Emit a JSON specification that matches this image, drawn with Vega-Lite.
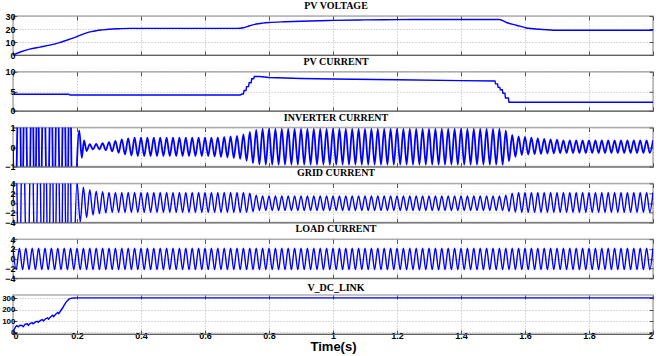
{
"$schema": "https://vega.github.io/schema/vega-lite/v6.json",
"background": "white",
"padding": {"left": 0, "top": 0, "right": 4, "bottom": 0},
"spacing": 16.8,
"bounds": "flush",
"config": {
  "view": {"stroke": "#b0b0b0", "strokeWidth": 1.5},
  "title": {"font": "Liberation Serif", "fontSize": 10, "fontWeight": "bold", "color": "black", "offset": 1, "dx": 3},
  "axis": {"labelFont": "Liberation Sans", "labelFontWeight": "bold", "labelFontSize": 9, "labelColor": "black", "domain": false, "grid": true, "gridColor": "#a0a0a0", "gridDash": [1, 2], "gridWidth": 0.8, "tickColor": "#555555", "tickSize": -4, "labelPadding": 2, "format": "~f", "titleFont": "Liberation Sans", "titleFontWeight": "bold", "titleFontSize": 13, "titleColor": "black", "titlePadding": 0}
},
"datasets": {
"pvv": [{"t":0,"v":0},{"t":0.025,"v":2.5},{"t":0.052,"v":4.5},{"t":0.085,"v":6.1},{"t":0.115,"v":7.6},{"t":0.145,"v":9.5},{"t":0.167,"v":11.3},{"t":0.185,"v":12.8},{"t":0.2,"v":14.2},{"t":0.215,"v":15.7},{"t":0.23,"v":17},{"t":0.245,"v":18},{"t":0.26,"v":18.7},{"t":0.28,"v":19.3},{"t":0.3,"v":19.8},{"t":0.33,"v":20.2},{"t":0.365,"v":20.5},{"t":0.7,"v":20.5},{"t":0.72,"v":21},{"t":0.74,"v":22.5},{"t":0.76,"v":23.8},{"t":0.78,"v":24.5},{"t":0.8,"v":25},{"t":0.85,"v":25.6},{"t":0.9,"v":26},{"t":1,"v":26.6},{"t":1.1,"v":27},{"t":1.2,"v":27.2},{"t":1.3,"v":27.3},{"t":1.52,"v":27.3},{"t":1.542,"v":25},{"t":1.573,"v":22.9},{"t":1.604,"v":20.8},{"t":1.646,"v":19.8},{"t":1.698,"v":19},{"t":2,"v":19}],
"pvi": [{"t":0,"v":4.25},{"t":0.175,"v":4.25},{"t":0.178,"v":4.05},{"t":0.71,"v":4.05},{"t":0.715,"v":4.3},{"t":0.72,"v":4.3},{"t":0.722,"v":5.2},{"t":0.728,"v":5.2},{"t":0.73,"v":6.2},{"t":0.736,"v":6.2},{"t":0.738,"v":7.2},{"t":0.744,"v":7.2},{"t":0.746,"v":8.2},{"t":0.752,"v":8.2},{"t":0.754,"v":8.8},{"t":0.77,"v":8.8},{"t":0.8,"v":8.55},{"t":0.9,"v":8.3},{"t":1,"v":8.15},{"t":1.2,"v":7.95},{"t":1.4,"v":7.75},{"t":1.506,"v":7.65},{"t":1.508,"v":6.9},{"t":1.514,"v":6.9},{"t":1.516,"v":6},{"t":1.521,"v":6},{"t":1.523,"v":5.4},{"t":1.529,"v":5.4},{"t":1.531,"v":4.5},{"t":1.537,"v":4.5},{"t":1.539,"v":3.3},{"t":1.548,"v":3.3},{"t":1.55,"v":2.2},{"t":2,"v":2.2}],
"inv": [{"t":0,"v":0},{"t":0.005,"v":-5},{"t":0.02,"v":5},{"t":0.028,"v":-5},{"t":0.037,"v":5},{"t":0.049,"v":-5},{"t":0.06,"v":5},{"t":0.068,"v":-5},{"t":0.077,"v":5},{"t":0.085,"v":-5},{"t":0.096,"v":5},{"t":0.108,"v":-5},{"t":0.119,"v":5},{"t":0.128,"v":-5},{"t":0.138,"v":5},{"t":0.149,"v":-5},{"t":0.159,"v":5},{"t":0.169,"v":-5},{"t":0.177,"v":5},{"t":0.187,"v":-5},{"t":0.207,"v":0.85},{"t":0.215,"v":-0.55},{"t":0.222,"v":0.35},{"t":0.23,"v":-0.2},
{"t":0.24,"v":0.15},{"t":0.25,"v":-0.12},{"t":0.26,"v":0.16},{"t":0.27,"v":-0.12},{"t":0.28,"v":0.2},{"t":0.29,"v":-0.16},{"t":0.3,"v":0.26},{"t":0.31,"v":-0.22},{"t":0.32,"v":0.32},{"t":0.33,"v":-0.3},{"t":0.34,"v":0.4},{"t":0.35,"v":-0.38},{"t":0.36,"v":0.45},{"t":0.37,"v":-0.43},
{"t":0.38,"v":0.48},{"t":0.39,"v":-0.46},{"t":0.4,"v":0.48},{"t":0.41,"v":-0.46},{"t":0.42,"v":0.48},{"t":0.43,"v":-0.46},{"t":0.44,"v":0.48},{"t":0.45,"v":-0.46},{"t":0.46,"v":0.48},{"t":0.47,"v":-0.46},{"t":0.48,"v":0.48},{"t":0.49,"v":-0.46},{"t":0.5,"v":0.48},{"t":0.51,"v":-0.46},{"t":0.52,"v":0.48},{"t":0.53,"v":-0.46},{"t":0.54,"v":0.48},{"t":0.55,"v":-0.46},{"t":0.56,"v":0.48},{"t":0.57,"v":-0.46},{"t":0.58,"v":0.48},{"t":0.59,"v":-0.46},{"t":0.6,"v":0.48},{"t":0.61,"v":-0.46},{"t":0.62,"v":0.48},{"t":0.63,"v":-0.48},{"t":0.64,"v":0.5},{"t":0.65,"v":-0.5},{"t":0.66,"v":0.52},{"t":0.67,"v":-0.52},{"t":0.68,"v":0.55},{"t":0.69,"v":-0.56},{"t":0.7,"v":0.58},{"t":0.71,"v":-0.6},{"t":0.72,"v":0.65},{"t":0.73,"v":-0.7},{"t":0.74,"v":0.78},{"t":0.75,"v":-0.82},{"t":0.76,"v":0.88},{"t":0.77,"v":-0.88},
{"t":0.78,"v":0.93},{"t":0.79,"v":-0.9},{"t":0.8,"v":0.93},{"t":0.81,"v":-0.9},{"t":0.82,"v":0.93},{"t":0.83,"v":-0.9},{"t":0.84,"v":0.93},{"t":0.85,"v":-0.9},{"t":0.86,"v":0.93},{"t":0.87,"v":-0.9},{"t":0.88,"v":0.93},{"t":0.89,"v":-0.9},{"t":0.9,"v":0.93},{"t":0.91,"v":-0.9},{"t":0.92,"v":0.93},{"t":0.93,"v":-0.9},{"t":0.94,"v":0.93},{"t":0.95,"v":-0.9},{"t":0.96,"v":0.93},{"t":0.97,"v":-0.9},{"t":0.98,"v":0.93},{"t":0.99,"v":-0.9},
{"t":1,"v":0.93},{"t":1.01,"v":-0.9},{"t":1.02,"v":0.93},{"t":1.03,"v":-0.9},{"t":1.04,"v":0.93},{"t":1.05,"v":-0.9},{"t":1.06,"v":0.93},{"t":1.07,"v":-0.9},{"t":1.08,"v":0.93},{"t":1.09,"v":-0.9},{"t":1.1,"v":0.93},{"t":1.11,"v":-0.9},{"t":1.12,"v":0.93},{"t":1.13,"v":-0.9},{"t":1.14,"v":0.93},{"t":1.15,"v":-0.9},{"t":1.16,"v":0.93},{"t":1.17,"v":-0.9},{"t":1.18,"v":0.93},{"t":1.19,"v":-0.9},{"t":1.2,"v":0.93},{"t":1.21,"v":-0.9},{"t":1.22,"v":0.93},{"t":1.23,"v":-0.9},{"t":1.24,"v":0.93},{"t":1.25,"v":-0.9},{"t":1.26,"v":0.93},{"t":1.27,"v":-0.9},{"t":1.28,"v":0.93},{"t":1.29,"v":-0.9},{"t":1.3,"v":0.93},{"t":1.31,"v":-0.9},{"t":1.32,"v":0.93},{"t":1.33,"v":-0.9},{"t":1.34,"v":0.93},{"t":1.35,"v":-0.9},{"t":1.36,"v":0.93},{"t":1.37,"v":-0.9},{"t":1.38,"v":0.93},{"t":1.39,"v":-0.9},{"t":1.4,"v":0.93},{"t":1.41,"v":-0.9},{"t":1.42,"v":0.93},{"t":1.43,"v":-0.9},{"t":1.44,"v":0.93},{"t":1.45,"v":-0.9},{"t":1.46,"v":0.93},{"t":1.47,"v":-0.9},{"t":1.48,"v":0.93},{"t":1.49,"v":-0.9},{"t":1.5,"v":0.93},{"t":1.51,"v":-0.9},{"t":1.52,"v":0.93},{"t":1.53,"v":-0.9},
{"t":1.54,"v":0.85},{"t":1.55,"v":-0.72},{"t":1.56,"v":0.62},{"t":1.57,"v":-0.5},{"t":1.58,"v":0.55},{"t":1.59,"v":-0.4},{"t":1.6,"v":0.52},{"t":1.61,"v":-0.38},{"t":1.62,"v":0.48},{"t":1.63,"v":-0.36},{"t":1.64,"v":0.45},{"t":1.65,"v":-0.35},{"t":1.66,"v":0.42},{"t":1.67,"v":-0.33},{"t":1.68,"v":0.4},{"t":1.69,"v":-0.32},{"t":1.7,"v":0.38},{"t":1.71,"v":-0.31},
{"t":1.72,"v":0.35},{"t":1.73,"v":-0.3},{"t":1.74,"v":0.35},{"t":1.75,"v":-0.3},{"t":1.76,"v":0.35},{"t":1.77,"v":-0.3},{"t":1.78,"v":0.35},{"t":1.79,"v":-0.3},{"t":1.8,"v":0.35},{"t":1.81,"v":-0.3},{"t":1.82,"v":0.35},{"t":1.83,"v":-0.3},{"t":1.84,"v":0.35},{"t":1.85,"v":-0.3},{"t":1.86,"v":0.35},{"t":1.87,"v":-0.3},{"t":1.88,"v":0.35},{"t":1.89,"v":-0.3},{"t":1.9,"v":0.35},{"t":1.91,"v":-0.3},{"t":1.92,"v":0.35},{"t":1.93,"v":-0.3},{"t":1.94,"v":0.35},{"t":1.95,"v":-0.3},{"t":1.96,"v":0.35},{"t":1.97,"v":-0.3},{"t":1.98,"v":0.35},{"t":1.99,"v":-0.3},{"t":2,"v":0.35}],
"grid": [{"t":0,"v":0},{"t":0.006,"v":20},{"t":0.02,"v":-20},{"t":0.03,"v":20},{"t":0.045,"v":-20},{"t":0.058,"v":20},{"t":0.07,"v":-20},{"t":0.081,"v":20},{"t":0.092,"v":-20},{"t":0.101,"v":20},{"t":0.11,"v":-20},{"t":0.121,"v":20},{"t":0.13,"v":-20},{"t":0.14,"v":20},{"t":0.15,"v":-20},{"t":0.159,"v":20},{"t":0.168,"v":-20},{"t":0.176,"v":20},{"t":0.186,"v":-20},
{"t":0.2,"v":4.3},{"t":0.21,"v":-3.9},{"t":0.22,"v":3.2},{"t":0.23,"v":-3},{"t":0.24,"v":2.7},{"t":0.25,"v":-2.5},{"t":0.26,"v":2.4},{"t":0.27,"v":-2.2},{"t":0.28,"v":2.3},{"t":0.29,"v":-2.05},
{"t":0.3,"v":2.15},{"t":0.31,"v":-1.95},{"t":0.32,"v":2.15},{"t":0.33,"v":-1.95},{"t":0.34,"v":2.15},{"t":0.35,"v":-1.95},{"t":0.36,"v":2.15},{"t":0.37,"v":-1.95},{"t":0.38,"v":2.15},{"t":0.39,"v":-1.95},{"t":0.4,"v":2.15},{"t":0.41,"v":-1.95},{"t":0.42,"v":2.15},{"t":0.43,"v":-1.95},{"t":0.44,"v":2.15},{"t":0.45,"v":-1.95},{"t":0.46,"v":2.15},{"t":0.47,"v":-1.95},{"t":0.48,"v":2.15},{"t":0.49,"v":-1.95},{"t":0.5,"v":2.15},{"t":0.51,"v":-1.95},{"t":0.52,"v":2.15},{"t":0.53,"v":-1.95},{"t":0.54,"v":2.15},{"t":0.55,"v":-1.95},{"t":0.56,"v":2.15},{"t":0.57,"v":-1.95},{"t":0.58,"v":2.15},{"t":0.59,"v":-1.95},{"t":0.6,"v":2.15},{"t":0.61,"v":-1.95},{"t":0.62,"v":2.15},{"t":0.63,"v":-1.95},{"t":0.64,"v":2.15},{"t":0.65,"v":-1.95},{"t":0.66,"v":2.15},{"t":0.67,"v":-1.95},{"t":0.68,"v":2.15},{"t":0.69,"v":-1.95},{"t":0.7,"v":2.15},{"t":0.71,"v":-1.95},{"t":0.72,"v":2.15},{"t":0.73,"v":-1.95},{"t":0.74,"v":2},{"t":0.75,"v":-1.8},{"t":0.76,"v":1.6},
{"t":0.77,"v":-1.55},{"t":0.78,"v":1.45},{"t":0.79,"v":-1.55},{"t":0.8,"v":1.45},{"t":0.81,"v":-1.55},{"t":0.82,"v":1.45},{"t":0.83,"v":-1.55},{"t":0.84,"v":1.45},{"t":0.85,"v":-1.55},{"t":0.86,"v":1.45},{"t":0.87,"v":-1.55},{"t":0.88,"v":1.45},{"t":0.89,"v":-1.55},{"t":0.9,"v":1.45},{"t":0.91,"v":-1.55},{"t":0.92,"v":1.45},{"t":0.93,"v":-1.55},{"t":0.94,"v":1.45},{"t":0.95,"v":-1.55},{"t":0.96,"v":1.45},{"t":0.97,"v":-1.55},{"t":0.98,"v":1.45},{"t":0.99,"v":-1.55},{"t":1,"v":1.45},{"t":1.01,"v":-1.55},{"t":1.02,"v":1.45},{"t":1.03,"v":-1.55},{"t":1.04,"v":1.45},{"t":1.05,"v":-1.55},{"t":1.06,"v":1.45},{"t":1.07,"v":-1.55},{"t":1.08,"v":1.45},{"t":1.09,"v":-1.55},{"t":1.1,"v":1.45},{"t":1.11,"v":-1.55},{"t":1.12,"v":1.45},{"t":1.13,"v":-1.55},{"t":1.14,"v":1.45},{"t":1.15,"v":-1.55},{"t":1.16,"v":1.45},{"t":1.17,"v":-1.55},{"t":1.18,"v":1.45},{"t":1.19,"v":-1.55},{"t":1.2,"v":1.45},{"t":1.21,"v":-1.55},{"t":1.22,"v":1.45},{"t":1.23,"v":-1.55},{"t":1.24,"v":1.45},{"t":1.25,"v":-1.55},{"t":1.26,"v":1.45},{"t":1.27,"v":-1.55},{"t":1.28,"v":1.45},{"t":1.29,"v":-1.55},{"t":1.3,"v":1.45},{"t":1.31,"v":-1.55},{"t":1.32,"v":1.45},{"t":1.33,"v":-1.55},{"t":1.34,"v":1.45},{"t":1.35,"v":-1.55},{"t":1.36,"v":1.45},{"t":1.37,"v":-1.55},{"t":1.38,"v":1.45},{"t":1.39,"v":-1.55},{"t":1.4,"v":1.45},{"t":1.41,"v":-1.55},{"t":1.42,"v":1.45},{"t":1.43,"v":-1.55},{"t":1.44,"v":1.45},{"t":1.45,"v":-1.55},{"t":1.46,"v":1.45},{"t":1.47,"v":-1.55},{"t":1.48,"v":1.45},{"t":1.49,"v":-1.55},{"t":1.5,"v":1.45},{"t":1.51,"v":-1.55},{"t":1.52,"v":1.45},{"t":1.53,"v":-1.55},{"t":1.54,"v":1.6},{"t":1.55,"v":-1.75},{"t":1.56,"v":2},{"t":1.57,"v":-1.9},
{"t":1.58,"v":2.15},{"t":1.59,"v":-1.95},{"t":1.6,"v":2.15},{"t":1.61,"v":-1.95},{"t":1.62,"v":2.15},{"t":1.63,"v":-1.95},{"t":1.64,"v":2.15},{"t":1.65,"v":-1.95},{"t":1.66,"v":2.15},{"t":1.67,"v":-1.95},{"t":1.68,"v":2.15},{"t":1.69,"v":-1.95},{"t":1.7,"v":2.15},{"t":1.71,"v":-1.95},{"t":1.72,"v":2.15},{"t":1.73,"v":-1.95},{"t":1.74,"v":2.15},{"t":1.75,"v":-1.95},{"t":1.76,"v":2.15},{"t":1.77,"v":-1.95},{"t":1.78,"v":2.15},{"t":1.79,"v":-1.95},{"t":1.8,"v":2.15},{"t":1.81,"v":-1.95},{"t":1.82,"v":2.15},{"t":1.83,"v":-1.95},{"t":1.84,"v":2.15},{"t":1.85,"v":-1.95},{"t":1.86,"v":2.15},{"t":1.87,"v":-1.95},{"t":1.88,"v":2.15},{"t":1.89,"v":-1.95},{"t":1.9,"v":2.15},{"t":1.91,"v":-1.95},{"t":1.92,"v":2.15},{"t":1.93,"v":-1.95},{"t":1.94,"v":2.15},{"t":1.95,"v":-1.95},{"t":1.96,"v":2.15},{"t":1.97,"v":-1.95},{"t":1.98,"v":2.15},{"t":1.99,"v":-1.95},{"t":2,"v":2.15}],
"load": [{"t":0,"v":2.15},{"t":0.01,"v":-2.25},{"t":0.02,"v":2.15},{"t":0.03,"v":-2.25},{"t":0.04,"v":2.15},{"t":0.05,"v":-2.25},{"t":0.06,"v":2.15},{"t":0.07,"v":-2.25},{"t":0.08,"v":2.15},{"t":0.09,"v":-2.25},{"t":0.1,"v":2.15},{"t":0.11,"v":-2.25},{"t":0.12,"v":2.15},{"t":0.13,"v":-2.25},{"t":0.14,"v":2.15},{"t":0.15,"v":-2.25},{"t":0.16,"v":2.15},{"t":0.17,"v":-2.25},{"t":0.18,"v":2.15},{"t":0.19,"v":-2.25},{"t":0.2,"v":2.15},{"t":0.21,"v":-2.25},{"t":0.22,"v":2.15},{"t":0.23,"v":-2.25},{"t":0.24,"v":2.15},{"t":0.25,"v":-2.25},{"t":0.26,"v":2.15},{"t":0.27,"v":-2.25},{"t":0.28,"v":2.15},{"t":0.29,"v":-2.25},{"t":0.3,"v":2.15},{"t":0.31,"v":-2.25},{"t":0.32,"v":2.15},{"t":0.33,"v":-2.25},{"t":0.34,"v":2.15},{"t":0.35,"v":-2.25},{"t":0.36,"v":2.15},{"t":0.37,"v":-2.25},{"t":0.38,"v":2.15},{"t":0.39,"v":-2.25},{"t":0.4,"v":2.15},{"t":0.41,"v":-2.25},{"t":0.42,"v":2.15},{"t":0.43,"v":-2.25},{"t":0.44,"v":2.15},{"t":0.45,"v":-2.25},{"t":0.46,"v":2.15},{"t":0.47,"v":-2.25},{"t":0.48,"v":2.15},{"t":0.49,"v":-2.25},{"t":0.5,"v":2.15},{"t":0.51,"v":-2.25},{"t":0.52,"v":2.15},{"t":0.53,"v":-2.25},{"t":0.54,"v":2.15},{"t":0.55,"v":-2.25},{"t":0.56,"v":2.15},{"t":0.57,"v":-2.25},{"t":0.58,"v":2.15},{"t":0.59,"v":-2.25},{"t":0.6,"v":2.15},{"t":0.61,"v":-2.25},{"t":0.62,"v":2.15},{"t":0.63,"v":-2.25},{"t":0.64,"v":2.15},{"t":0.65,"v":-2.25},{"t":0.66,"v":2.15},{"t":0.67,"v":-2.25},{"t":0.68,"v":2.15},{"t":0.69,"v":-2.25},{"t":0.7,"v":2.15},{"t":0.71,"v":-2.25},{"t":0.72,"v":2.15},{"t":0.73,"v":-2.25},{"t":0.74,"v":2.15},{"t":0.75,"v":-2.25},{"t":0.76,"v":2.15},{"t":0.77,"v":-2.25},{"t":0.78,"v":2.15},{"t":0.79,"v":-2.25},{"t":0.8,"v":2.15},{"t":0.81,"v":-2.25},{"t":0.82,"v":2.15},{"t":0.83,"v":-2.25},{"t":0.84,"v":2.15},{"t":0.85,"v":-2.25},{"t":0.86,"v":2.15},{"t":0.87,"v":-2.25},{"t":0.88,"v":2.15},{"t":0.89,"v":-2.25},{"t":0.9,"v":2.15},{"t":0.91,"v":-2.25},{"t":0.92,"v":2.15},{"t":0.93,"v":-2.25},{"t":0.94,"v":2.15},{"t":0.95,"v":-2.25},{"t":0.96,"v":2.15},{"t":0.97,"v":-2.25},{"t":0.98,"v":2.15},{"t":0.99,"v":-2.25},{"t":1,"v":2.15},{"t":1.01,"v":-2.25},{"t":1.02,"v":2.15},{"t":1.03,"v":-2.25},{"t":1.04,"v":2.15},{"t":1.05,"v":-2.25},{"t":1.06,"v":2.15},{"t":1.07,"v":-2.25},{"t":1.08,"v":2.15},{"t":1.09,"v":-2.25},{"t":1.1,"v":2.15},{"t":1.11,"v":-2.25},{"t":1.12,"v":2.15},{"t":1.13,"v":-2.25},{"t":1.14,"v":2.15},{"t":1.15,"v":-2.25},{"t":1.16,"v":2.15},{"t":1.17,"v":-2.25},{"t":1.18,"v":2.15},{"t":1.19,"v":-2.25},{"t":1.2,"v":2.15},{"t":1.21,"v":-2.25},{"t":1.22,"v":2.15},{"t":1.23,"v":-2.25},{"t":1.24,"v":2.15},{"t":1.25,"v":-2.25},{"t":1.26,"v":2.15},{"t":1.27,"v":-2.25},{"t":1.28,"v":2.15},{"t":1.29,"v":-2.25},{"t":1.3,"v":2.15},{"t":1.31,"v":-2.25},{"t":1.32,"v":2.15},{"t":1.33,"v":-2.25},{"t":1.34,"v":2.15},{"t":1.35,"v":-2.25},{"t":1.36,"v":2.15},{"t":1.37,"v":-2.25},{"t":1.38,"v":2.15},{"t":1.39,"v":-2.25},{"t":1.4,"v":2.15},{"t":1.41,"v":-2.25},{"t":1.42,"v":2.15},{"t":1.43,"v":-2.25},{"t":1.44,"v":2.15},{"t":1.45,"v":-2.25},{"t":1.46,"v":2.15},{"t":1.47,"v":-2.25},{"t":1.48,"v":2.15},{"t":1.49,"v":-2.25},{"t":1.5,"v":2.15},{"t":1.51,"v":-2.25},{"t":1.52,"v":2.15},{"t":1.53,"v":-2.25},{"t":1.54,"v":2.15},{"t":1.55,"v":-2.25},{"t":1.56,"v":2.15},{"t":1.57,"v":-2.25},{"t":1.58,"v":2.15},{"t":1.59,"v":-2.25},{"t":1.6,"v":2.15},{"t":1.61,"v":-2.25},{"t":1.62,"v":2.15},{"t":1.63,"v":-2.25},{"t":1.64,"v":2.15},{"t":1.65,"v":-2.25},{"t":1.66,"v":2.15},{"t":1.67,"v":-2.25},{"t":1.68,"v":2.15},{"t":1.69,"v":-2.25},{"t":1.7,"v":2.15},{"t":1.71,"v":-2.25},{"t":1.72,"v":2.15},{"t":1.73,"v":-2.25},{"t":1.74,"v":2.15},{"t":1.75,"v":-2.25},{"t":1.76,"v":2.15},{"t":1.77,"v":-2.25},{"t":1.78,"v":2.15},{"t":1.79,"v":-2.25},{"t":1.8,"v":2.15},{"t":1.81,"v":-2.25},{"t":1.82,"v":2.15},{"t":1.83,"v":-2.25},{"t":1.84,"v":2.15},{"t":1.85,"v":-2.25},{"t":1.86,"v":2.15},{"t":1.87,"v":-2.25},{"t":1.88,"v":2.15},{"t":1.89,"v":-2.25},{"t":1.9,"v":2.15},{"t":1.91,"v":-2.25},{"t":1.92,"v":2.15},{"t":1.93,"v":-2.25},{"t":1.94,"v":2.15},{"t":1.95,"v":-2.25},{"t":1.96,"v":2.15},{"t":1.97,"v":-2.25},{"t":1.98,"v":2.15},{"t":1.99,"v":-2.25},{"t":2,"v":2.15}],
"vdc": [{"t":0,"v":0},{"t":0.008,"v":50},{"t":0.012,"v":58},{"t":0.016,"v":48},{"t":0.022,"v":62},{"t":0.028,"v":60},{"t":0.032,"v":50},{"t":0.038,"v":72},{"t":0.045,"v":75},{"t":0.048,"v":62},{"t":0.055,"v":82},{"t":0.06,"v":85},{"t":0.063,"v":75},{"t":0.07,"v":92},{"t":0.076,"v":98},{"t":0.079,"v":88},{"t":0.086,"v":105},{"t":0.092,"v":112},{"t":0.095,"v":100},{"t":0.102,"v":120},{"t":0.108,"v":128},{"t":0.111,"v":116},{"t":0.118,"v":138},{"t":0.124,"v":150},{"t":0.127,"v":138},{"t":0.134,"v":162},{"t":0.14,"v":175},{"t":0.143,"v":165},{"t":0.15,"v":195},{"t":0.155,"v":215},{"t":0.16,"v":240},{"t":0.165,"v":262},{"t":0.17,"v":280},{"t":0.175,"v":293},{"t":0.18,"v":300},{"t":0.19,"v":304},{"t":0.2,"v":305},{"t":2,"v":305}]
},
"vconcat": [
{"title": "PV VOLTAGE", "width": 640, "height": 39, "data": {"name": "pvv"},
 "layer": [
  {"mark": {"type": "line", "interpolate": "monotone", "strokeWidth": 1.4, "clip": true, "color": "#0000ff"},
   "encoding": {"x": {"field": "t", "type": "quantitative", "title": null, "scale": {"domain": [0, 2], "nice": false, "zero": false}, "axis": {"values": [0,0.2,0.4,0.6,0.8,1,1.2,1.4,1.6,1.8,2], "labels": false, "domain": true, "domainColor": "#606060"}},
                "y": {"field": "v", "type": "quantitative", "title": null, "scale": {"domain": [0, 30], "nice": false, "zero": false}, "axis": {"values": [0,10,20,30]}}}},
  {"mark": {"type": "line", "opacity": 0, "clip": true},
   "encoding": {"x": {"field": "t", "type": "quantitative", "title": null, "axis": {"orient": "top", "values": [0,0.2,0.4,0.6,0.8,1,1.2,1.4,1.6,1.8,2], "labels": false, "grid": false}},
                "y": {"field": "v", "type": "quantitative", "title": null, "axis": {"orient": "right", "values": [0,10,20,30], "labels": false, "grid": false}}}}
 ],
 "resolve": {"axis": {"x": "independent", "y": "independent"}}},
{"title": "PV CURRENT", "width": 640, "height": 39, "data": {"name": "pvi"},
 "layer": [
  {"mark": {"type": "line", "interpolate": "linear", "strokeWidth": 1.4, "clip": true, "color": "#0000ff"},
   "encoding": {"x": {"field": "t", "type": "quantitative", "title": null, "scale": {"domain": [0, 2], "nice": false, "zero": false}, "axis": {"values": [0,0.2,0.4,0.6,0.8,1,1.2,1.4,1.6,1.8,2], "labels": false, "domain": true, "domainColor": "#606060"}},
                "y": {"field": "v", "type": "quantitative", "title": null, "scale": {"domain": [0, 10], "nice": false, "zero": false}, "axis": {"values": [0,5,10]}}}},
  {"mark": {"type": "line", "opacity": 0, "clip": true},
   "encoding": {"x": {"field": "t", "type": "quantitative", "title": null, "axis": {"orient": "top", "values": [0,0.2,0.4,0.6,0.8,1,1.2,1.4,1.6,1.8,2], "labels": false, "grid": false}},
                "y": {"field": "v", "type": "quantitative", "title": null, "axis": {"orient": "right", "values": [0,5,10], "labels": false, "grid": false}}}}
 ],
 "resolve": {"axis": {"x": "independent", "y": "independent"}}},
{"title": "INVERTER CURRENT", "width": 640, "height": 39, "data": {"name": "inv"},
 "layer": [
  {"mark": {"type": "line", "interpolate": "monotone", "strokeWidth": 1.8, "clip": true, "color": "#0000ff"},
   "encoding": {"x": {"field": "t", "type": "quantitative", "title": null, "scale": {"domain": [0, 2], "nice": false, "zero": false}, "axis": {"values": [0,0.2,0.4,0.6,0.8,1,1.2,1.4,1.6,1.8,2], "labels": false, "domain": true, "domainColor": "#606060"}},
                "y": {"field": "v", "type": "quantitative", "title": null, "scale": {"domain": [-1, 1], "nice": false, "zero": false}, "axis": {"values": [-1,0,1]}}}},
  {"mark": {"type": "line", "opacity": 0, "clip": true},
   "encoding": {"x": {"field": "t", "type": "quantitative", "title": null, "axis": {"orient": "top", "values": [0,0.2,0.4,0.6,0.8,1,1.2,1.4,1.6,1.8,2], "labels": false, "grid": false}},
                "y": {"field": "v", "type": "quantitative", "title": null, "axis": {"orient": "right", "values": [-1,0,1], "labels": false, "grid": false}}}}
 ],
 "resolve": {"axis": {"x": "independent", "y": "independent"}}},
{"title": "GRID CURRENT", "width": 640, "height": 39, "data": {"name": "grid"},
 "layer": [
  {"mark": {"type": "line", "interpolate": "monotone", "strokeWidth": 1.4, "clip": true, "color": "#0000ff"},
   "encoding": {"x": {"field": "t", "type": "quantitative", "title": null, "scale": {"domain": [0, 2], "nice": false, "zero": false}, "axis": {"values": [0,0.2,0.4,0.6,0.8,1,1.2,1.4,1.6,1.8,2], "labels": false, "domain": true, "domainColor": "#606060"}},
                "y": {"field": "v", "type": "quantitative", "title": null, "scale": {"domain": [-4, 4], "nice": false, "zero": false}, "axis": {"values": [-4,-2,0,2,4]}}}},
  {"mark": {"type": "line", "opacity": 0, "clip": true},
   "encoding": {"x": {"field": "t", "type": "quantitative", "title": null, "axis": {"orient": "top", "values": [0,0.2,0.4,0.6,0.8,1,1.2,1.4,1.6,1.8,2], "labels": false, "grid": false}},
                "y": {"field": "v", "type": "quantitative", "title": null, "axis": {"orient": "right", "values": [-4,-2,0,2,4], "labels": false, "grid": false}}}}
 ],
 "resolve": {"axis": {"x": "independent", "y": "independent"}}},
{"title": "LOAD CURRENT", "width": 640, "height": 39, "data": {"name": "load"},
 "layer": [
  {"mark": {"type": "line", "interpolate": "monotone", "strokeWidth": 1.4, "clip": true, "color": "#0000ff"},
   "encoding": {"x": {"field": "t", "type": "quantitative", "title": null, "scale": {"domain": [0, 2], "nice": false, "zero": false}, "axis": {"values": [0,0.2,0.4,0.6,0.8,1,1.2,1.4,1.6,1.8,2], "labels": false, "domain": true, "domainColor": "#606060"}},
                "y": {"field": "v", "type": "quantitative", "title": null, "scale": {"domain": [-4, 4], "nice": false, "zero": false}, "axis": {"values": [-4,-2,0,2,4]}}}},
  {"mark": {"type": "line", "opacity": 0, "clip": true},
   "encoding": {"x": {"field": "t", "type": "quantitative", "title": null, "axis": {"orient": "top", "values": [0,0.2,0.4,0.6,0.8,1,1.2,1.4,1.6,1.8,2], "labels": false, "grid": false}},
                "y": {"field": "v", "type": "quantitative", "title": null, "axis": {"orient": "right", "values": [-4,-2,0,2,4], "labels": false, "grid": false}}}}
 ],
 "resolve": {"axis": {"x": "independent", "y": "independent"}}},
{"title": "V_DC_LINK", "width": 640, "height": 39, "data": {"name": "vdc"},
 "layer": [
  {"mark": {"type": "line", "interpolate": "linear", "strokeWidth": 1.4, "clip": true, "color": "#0000ff"},
   "encoding": {"x": {"field": "t", "type": "quantitative", "title": "Time(s)", "scale": {"domain": [0, 2], "nice": false, "zero": false}, "axis": {"values": [0,0.2,0.4,0.6,0.8,1,1.2,1.4,1.6,1.8,2], "labelFontSize": 9, "labelPadding": 1, "domain": true, "domainColor": "#606060"}},
                "y": {"field": "v", "type": "quantitative", "title": null, "scale": {"domain": [-15, 330], "nice": false, "zero": false}, "axis": {"values": [0,100,200,300], "labelFontSize": 8}}}},
  {"mark": {"type": "line", "opacity": 0, "clip": true},
   "encoding": {"x": {"field": "t", "type": "quantitative", "title": null, "axis": {"orient": "top", "values": [0,0.2,0.4,0.6,0.8,1,1.2,1.4,1.6,1.8,2], "labels": false, "grid": false}},
                "y": {"field": "v", "type": "quantitative", "title": null, "axis": {"orient": "right", "values": [0,100,200,300], "labels": false, "grid": false}}}}
 ],
 "resolve": {"axis": {"x": "independent", "y": "independent"}}}
]
}
